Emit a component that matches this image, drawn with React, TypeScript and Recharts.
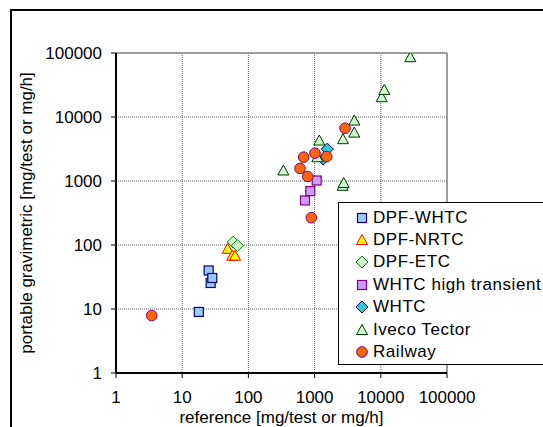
import React from 'react'
import {
  ScatterChart,
  Scatter,
  XAxis,
  YAxis,
  CartesianGrid,
  ReferenceLine,
  Legend,
} from 'recharts'

// reference [mg/test or mg/h] vs portable gravimetric [mg/test or mg/h]
const dpfWhtc = [
  {ref: 17.8, grav: 9},
  {ref: 25.1, grav: 40},
  {ref: 26.9, grav: 25.5},
  {ref: 28.5, grav: 30.5},
]
const dpfNrtc = [
  {ref: 48.7, grav: 87},
  {ref: 57, grav: 68},
  {ref: 63, grav: 68},
]
const dpfEtc = [
  {ref: 59, grav: 111},
  {ref: 68, grav: 98},
]
const whtcHighTransient = [
  {ref: 716, grav: 497},
  {ref: 861, grav: 695},
  {ref: 1076, grav: 1018},
]
const whtc = [
  {ref: 1556, grav: 3150},
  {ref: 1350, grav: 2200},
]
const ivecoTector = [
  {ref: 337, grav: 1460},
  {ref: 1178, grav: 4290},
  {ref: 1100, grav: 2350},
  {ref: 2685, grav: 4500},
  {ref: 3980, grav: 8800},
  {ref: 3980, grav: 5700},
  {ref: 2650, grav: 840},
  {ref: 2750, grav: 930},
  {ref: 10300, grav: 20400},
  {ref: 11300, grav: 26500},
  {ref: 27900, grav: 86000},
]
const railway = [
  {ref: 3.46, grav: 7.9},
  {ref: 602, grav: 1570},
  {ref: 684, grav: 2360},
  {ref: 787, grav: 1175},
  {ref: 892, grav: 267},
  {ref: 1014, grav: 2720},
  {ref: 1524, grav: 2410},
  {ref: 2880, grav: 6680},
]

const logTicks = [1, 10, 100, 1000, 10000, 100000]

type Shape = 'square' | 'triangle' | 'diamond' | 'circle'

const series: {name: string; data: {ref: number; grav: number}[]; shape: Shape; fill: string; stroke: string}[] = [
  {name: 'DPF-WHTC', data: dpfWhtc, shape: 'square', fill: '#99CCFF', stroke: '#000080'},
  {name: 'DPF-NRTC', data: dpfNrtc, shape: 'triangle', fill: '#FFFF00', stroke: '#FF0000'},
  {name: 'DPF-ETC', data: dpfEtc, shape: 'diamond', fill: '#CCFFCC', stroke: '#008000'},
  {name: 'WHTC high transient', data: whtcHighTransient, shape: 'square', fill: '#CC99FF', stroke: '#800080'},
  {name: 'WHTC', data: whtc, shape: 'diamond', fill: '#33CCCC', stroke: '#000080'},
  {name: 'Iveco Tector', data: ivecoTector, shape: 'triangle', fill: '#CCFFCC', stroke: '#003300'},
  {name: 'Railway', data: railway, shape: 'circle', fill: '#FF6600', stroke: '#800080'},
]

const Marker = ({shape, cx, cy, fill, stroke}: {shape: Shape; cx: number; cy: number; fill: string; stroke: string}) => {
  if (cx == null || cy == null) return null
  switch (shape) {
    case 'square':
      return <rect x={cx - 4.5} y={cy - 4.5} width={9} height={9} fill={fill} stroke={stroke} strokeWidth={1.2}/>
    case 'triangle':
      return <polygon points={`${cx},${cy - 5.5} ${cx + 5.5},${cy + 4.5} ${cx - 5.5},${cy + 4.5}`}
                      fill={fill} stroke={stroke} strokeWidth={1}/>
    case 'diamond':
      return <polygon points={`${cx},${cy - 6} ${cx + 6},${cy} ${cx},${cy + 6} ${cx - 6},${cy}`}
                      fill={fill} stroke={stroke} strokeWidth={1}/>
    default:
      return <circle cx={cx} cy={cy} r={5.3} fill={fill} stroke={stroke} strokeWidth={1}/>
  }
}

const LegendBox = () => (
  <div style={{
    width: 215, height: 163, border: '1px solid #000', background: '#fff',
    boxSizing: 'border-box', position: 'relative', fontFamily: 'Liberation Sans, Arial, sans-serif',
  }}>
    {series.map((s, i) => (
      <div key={s.name} style={{
        position: 'absolute', left: 0, top: 14.5 + i * 22.4 - 11, height: 22,
        display: 'flex', alignItems: 'center', whiteSpace: 'nowrap',
      }}>
        <svg width={34} height={22}>
          <Marker shape={s.shape} cx={23} cy={11} fill={s.fill} stroke={s.stroke}/>
        </svg>
        <span style={{fontSize: 17, letterSpacing: 0.55, color: '#000'}}>{s.name}</span>
      </div>
    ))}
  </div>
)

const tickStyle = {fill: '#000', fontSize: 17, fontFamily: 'Liberation Sans, Arial, sans-serif'}

export default function App() {
  return (
    <div style={{position: 'absolute', left: 0, top: 0, width: 543, height: 427, overflow: 'hidden', background: '#fff'}}>
      <div style={{position: 'absolute', left: 10, top: 9, width: 600, height: 500, border: '2px solid #000', boxSizing: 'border-box'}}/>
      <ScatterChart width={543} height={427}
                    margin={{top: 53, right: 96, bottom: 0, left: 0}}
                    style={{position: 'absolute', left: 0, top: 0, fontFamily: 'Liberation Sans, Arial, sans-serif'}}
      >
        <CartesianGrid stroke='#666' strokeDasharray='1 1'/>
        <XAxis type='number' dataKey='ref' scale='log' domain={[1, 100000]} ticks={logTicks}
               allowDataOverflow height={54} interval={0}
               axisLine={{stroke: '#000', strokeWidth: 2}} tickLine={{stroke: '#000'}}
               tickSize={5} tickMargin={13} tick={tickStyle}
               label={{value: 'reference [mg/test or mg/h]', position: 'insideBottom', offset: 4,
                 style: {fill: '#000', fontSize: 17}}}/>
        <YAxis type='number' dataKey='grav' scale='log' domain={[1, 100000]} ticks={logTicks}
               allowDataOverflow width={116} interval={0}
               axisLine={{stroke: '#000', strokeWidth: 2}} tickLine={{stroke: '#000'}}
               tickSize={5} tickMargin={9} tick={tickStyle}
               label={{value: 'portable gravimetric [mg/test or mg/h]', angle: -90, position: 'insideLeft',
                 offset: 26, style: {fill: '#000', fontSize: 17, textAnchor: 'middle'}}}/>
        <ReferenceLine x={100000} stroke='#888' strokeWidth={1.5}/>
        <ReferenceLine y={100000} stroke='#888' strokeWidth={1.5}/>
        {series.map(s => (
          <Scatter key={s.name} name={s.name} data={s.data} isAnimationActive={false}
                   shape={(p: any) => <Marker shape={s.shape} cx={p.cx} cy={p.cy} fill={s.fill} stroke={s.stroke}/>}/>
        ))}
        <Legend layout='vertical' align='center' verticalAlign='middle'
                wrapperStyle={{left: 338, top: 202, width: 215, height: 163}}
                content={() => <LegendBox/>}/>
      </ScatterChart>
    </div>
  )
}
